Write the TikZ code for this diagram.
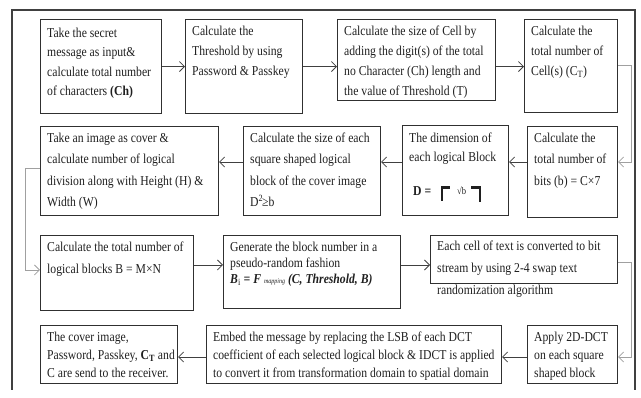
\documentclass[tikz,border=0pt]{standalone}
\usepackage{fontspec}
\setmainfont[FakeStretch=0.86]{Liberation Serif}
\usetikzlibrary{arrows.meta,calc}
\definecolor{boxc}{HTML}{303030}
\definecolor{linec}{HTML}{404040}
\definecolor{gline}{HTML}{A0A0A0}
\definecolor{framec}{HTML}{404040}
\newcommand\mybox[8]{%
  \node[box, anchor=north west, minimum width={(#4-#2)*1pt}, minimum height={(#5-#3)*1pt}] (#1) at (#2,#3) {};
  \node[txt, anchor=north west, font=\fontsize{13.6}{#7}\selectfont] (#1t) at (#2+7,#3+#6-9.5) {\rule{0pt}{9.5pt}#8};
}
\begin{document}
\begin{tikzpicture}[x=1pt,y=-1pt,
  box/.style={draw=boxc, line width=1.1pt, inner sep=0pt},
  txt/.style={inner sep=0pt, align=left, text=black!88},
  arr/.style={draw=linec, line width=0.8pt, -{Straight Barb[length=5pt,width=10pt]}},
  garr/.style={arr, draw=gline},
  frame/.style={draw=framec, line width=1.3pt}]
\useasboundingbox (0,0) rectangle (641,398);
% outer frame
\coordinate (f1) at (12,390);
\coordinate (f2) at (12,10);
\coordinate (f3) at (635,10);
\coordinate (f4) at (635,390);
\draw[frame] (f1) -- (f2) -- (f3) -- (f4);
% row 1
\mybox{b1}{40}{19}{161}{113}{18}{19.5}{Take the secret\\message as input\&\\calculate total number\\of characters \textbf{(Ch)}}
\mybox{b2}{185}{19}{302}{113}{16}{20}{Calculate the\\Threshold by using\\Password \& Passkey}
\mybox{b3}{337}{19}{495}{100}{16}{20}{Calculate the size of Cell by\\adding the digit(s) of the total\\no Character (Ch) length and\\the value of Threshold (T)}
\mybox{b4}{524}{19}{617}{112}{16}{20}{Calculate the\\total number of\\Cell(s) (C\textsubscript{T})}
% row 2
\mybox{b5}{527}{126}{617}{217}{16}{21.5}{Calculate the\\total number of\\bits (b) = C×7}
\mybox{b6}{402}{125}{508}{215}{17}{19}{The dimension of\\each logical Block}
\mybox{b7}{243}{126}{380}{215}{16}{21.5}{Calculate the size of each\\square shaped logical\\block of the cover image\\D\textsuperscript{2}\kern-1pt≥b}
\mybox{b8}{40}{126}{218}{215}{16}{21.5}{Take an image as cover \&\\calculate number of logical\\division along with Height (H) \&\\Width (W)}
% D = ceil(sqrt b)
\node[anchor=base west, inner sep=0pt, font=\fontsize{13.6}{16}\selectfont\bfseries, text=black!88] (dD) at (413,196) {D =};
\node[anchor=base west, inner sep=0pt, font=\fontsize{10}{12}\selectfont, text=black!88] (dsq) at (457,195) {√b};
\draw[line width=2.3pt, black!88] (442,201) -- (442,187.5) -- (450,187.5);
\draw[line width=2.3pt, black!88] (471,187.5) -- (480,187.5) -- (480,202);
% row 3
\mybox{b9}{40}{235}{193}{310}{16}{22}{Calculate the total number of\\logical blocks B = M×N}
\mybox{b10}{223}{235}{400}{308}{16}{16}{Generate the block number in a\\pseudo-random fashion\\\textbf{\textit{B}}\textsubscript{i} \textbf{\textit{= F}} {\fontsize{7}{8}\selectfont\textit{mapping}} \textbf{\textit{(C, Threshold, B)}}}
\mybox{b11}{430}{235}{617}{283}{15}{22}{Each cell of text is converted to bit\\stream by using 2-4 swap text\\randomization algorithm}
% row 4
\mybox{b12}{40}{325}{177}{383}{16}{18}{The cover image,\\Password, Passkey, \textbf{C\textsubscript{T}} and\\C are send to the receiver.}
\mybox{b13}{206}{325}{501}{383}{16}{18}{Embed the message by replacing the LSB of each DCT\\coefficient of each selected logical block \& IDCT is applied\\to convert it from transformation domain to spatial domain}
\mybox{b14}{527}{325}{617}{383}{16}{18}{Apply 2D-DCT\\on each square\\shaped block}
% connectors
\draw[arr] (b1.east) -- (b2.west);
\draw[arr] (b2.east) -- (b3.west |- b2.east);
\draw[arr] (b3.east |- b1.east) -- (b4.west |- b1.east);
\coordinate (k1) at (631,65);
\coordinate (k2) at (631,162);
\draw[garr] (b4.east |- k1) -- (k1) -- (k2) -- (b5.east |- k2);
\draw[arr] (b5.west |- k2) -- (b6.east |- k2);
\draw[arr] (b6.west |- k2) -- (b7.east |- k2);
\draw[arr] (b7.west |- k2) -- (b8.east |- k2);
\coordinate (k3) at (25,168);
\coordinate (k4) at (25,270);
\draw[garr] (b8.west |- k3) -- (k3) -- (k4) -- (b9.west |- k4);
\coordinate (k5) at (0,265);
\draw[arr] (b9.east |- k5) -- (b10.west |- k5);
\draw[arr] (b10.east |- k5) -- (b11.west |- k5);
\coordinate (k6) at (631,262);
\coordinate (k7) at (631,357);
\draw[garr] (b11.east |- k6) -- (k6) -- (k7) -- (b14.east |- k7);
\draw[arr] (b14.west |- k7) -- (b13.east |- k7);
\draw[arr] (b13.west |- k7) -- (b12.east |- k7);
\end{tikzpicture}
\end{document}
